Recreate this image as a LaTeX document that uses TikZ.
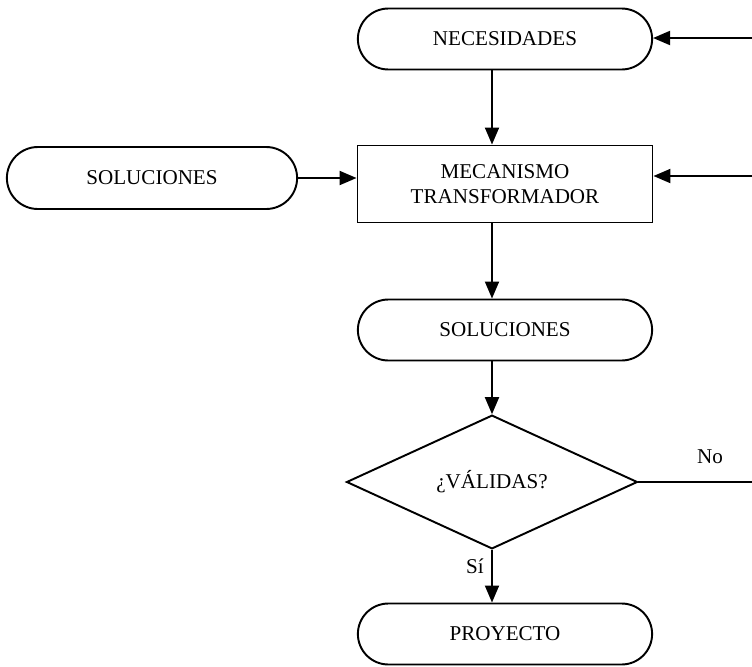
\documentclass[tikz,border=0pt]{standalone}
\usepackage{fontspec}
\setmainfont{Liberation Serif}
\usetikzlibrary{shapes.misc,shapes.geometric,arrows.meta}

\begin{document}
\begin{tikzpicture}[x=0.02cm, y=-0.02cm, line width=1.1pt,
	>={Triangle[length=0.34cm,width=0.28cm]},
	font=\fontsize{12}{14}\selectfont,
	term/.style = {draw, rounded rectangle, minimum width=6.12cm, minimum height=1.22cm},
	caja/.style = {draw, rectangle, align=center, minimum width=5.9cm, minimum height=1.54cm},
	decision/.style = {draw, diamond, minimum width=5.82cm, minimum height=1.83cm, inner sep=0pt}]
	\useasboundingbox (0,0) rectangle (752,667);
	\node[term] (nec) at (505,39) {NECESIDADES};
	\node[caja] (mec) at (505,184) {MECANISMO\\TRANSFORMADOR};
	\node[term, minimum width=6.04cm, minimum height=1.24cm] (sol1) at (152,178) {SOLUCIONES};
	\node[term] (sol2) at (505,330) {SOLUCIONES};
	\node[decision] (dec) at (492,482) {¿VÁLIDAS?};
	\node[term] (pro) at (505,634) {PROYECTO};
	\node (no) at (710,457) {No};
	\node (si) at (475,566) {Sí};
	\coordinate (r1) at (752,38);
	\coordinate (r2) at (752,176);
	\coordinate (r3) at (752,482);
	\draw[->] (nec.south -| dec) -- (mec.north -| dec);
	\draw[->] (sol1.east) -- (sol1.east -| mec.west);
	\draw[->] (r1) -- (r1 -| nec.east);
	\draw[->] (r2) -- (r2 -| mec.east);
	\draw[->] (mec.south -| dec) -- (sol2.north -| dec);
	\draw[->] (sol2.south -| dec) -- (dec.north);
	\draw (dec.east) -- (r3);
	\draw[->] (dec.south) -- (pro.north -| dec);
\end{tikzpicture}
\end{document}
